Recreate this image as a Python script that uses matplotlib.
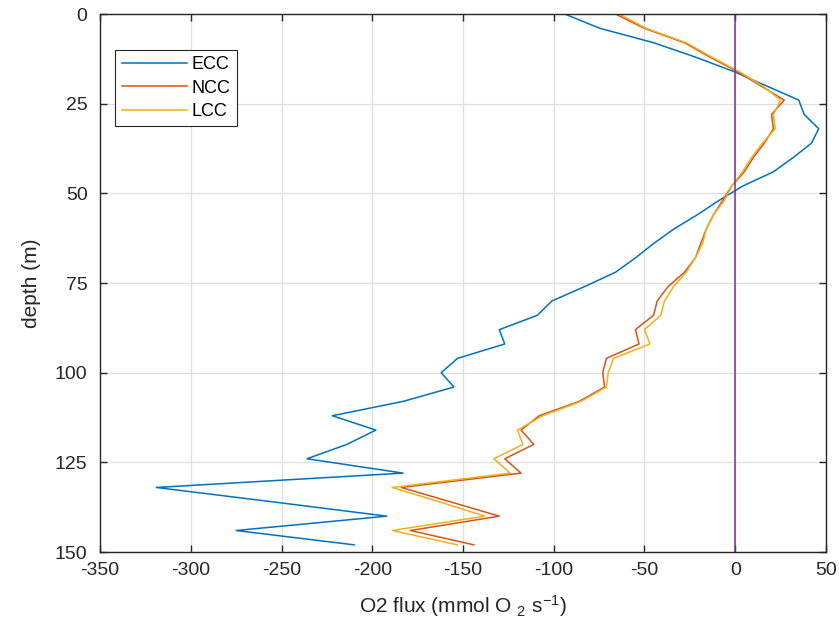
import matplotlib
matplotlib.use('Agg')
import matplotlib.pyplot as plt
import matplotlib as mpl

# MATLAB-ish default colours
ECC_COLOR = '#0072BD'
NCC_COLOR = '#D95319'
LCC_COLOR = '#EDB120'
ZERO_COLOR = '#7E2F8E'
AXIS_COLOR = '#262626'
GRID_COLOR = '#DFDFDF'

# ── data ─────────────────────────────────────────────────────────────────────
depth = [0, 4, 8, 12, 16, 20, 24, 28, 32, 36, 40, 44, 48, 52, 56, 60, 64, 68, 72,
         76, 80, 84, 88, 92, 96, 100, 104, 108, 112, 116, 120, 124, 128, 132,
         136, 140, 144, 148]

ecc = [-94, -74.5, -45, -22, -1, 17, 35, 38, 46, 42, 32, 21, 4, -9, -21, -34,
       -45, -55, -66, -83, -101, -109, -130, -127, -153, -162, -155, -183,
       -222, -198, -214, -236, -183, -319, -255, -192, -275, -210]

ncc = [-66, -50, -28, -14, 1, 14, 27, 20, 21, 16, 10, 5, -2, -7, -12, -16,
       -19, -22, -28, -37, -43, -45, -55, -53, -71, -73, -72, -86, -108,
       -118, -111, -127, -118, -184, -157, -130, -179, -144]

lcc = [-64, -49, -27, -13, 2, 15, 25, 21, 22, 15, 9, 4, -2, -6, -12, -16,
       -18, -22, -27, -34, -39, -41, -50, -47, -67, -70, -71, -85, -106,
       -120, -117, -133, -124, -189, -163, -138, -189, -153]

x_ticks = [-350, -300, -250, -200, -150, -100, -50, 0, 50]
y_ticks = [0, 25, 50, 75, 100, 125, 150]

mpl.rcParams.update({
    'font.family': ['Liberation Sans', 'DejaVu Sans'],
    'font.size': 14,
    'axes.edgecolor': AXIS_COLOR,
    'axes.linewidth': 1.0,
    'axes.unicode_minus': False,
    'xtick.direction': 'in',
    'ytick.direction': 'in',
    'xtick.color': AXIS_COLOR,
    'ytick.color': AXIS_COLOR,
    'mathtext.default': 'regular',
})

fig = plt.figure(figsize=(8.39, 6.37), dpi=100)
ax = fig.add_axes([0.1192, 0.1334, 0.8653, 0.8446])

ax.plot(ecc, depth, color=ECC_COLOR, lw=1.1, label='ECC')
ax.plot(ncc, depth, color=NCC_COLOR, lw=1.1, label='NCC')
ax.plot(lcc, depth, color=LCC_COLOR, lw=1.1, label='LCC')
ax.axvline(0, color=ZERO_COLOR, lw=1.1)

ax.set_xlim(-350, 50)
ax.set_ylim(150, 0)
ax.set_xticks(x_ticks)
ax.set_yticks(y_ticks)
ax.grid(True, color=GRID_COLOR, lw=0.9)
ax.set_axisbelow(True)
ax.tick_params(axis='both', length=5, width=1, labelsize=14,
               top=True, right=True, labelcolor=AXIS_COLOR)
ax.tick_params(axis='x', pad=7)
ax.tick_params(axis='y', pad=9)

ax.set_xlabel(r'O2 flux (mmol O $_{2}$ s$^{-1}$)', fontsize=15, color=AXIS_COLOR, labelpad=10)
ax.set_ylabel('depth (m)', fontsize=15, color=AXIS_COLOR, labelpad=10)

leg = ax.legend(loc='upper left', bbox_to_anchor=(0.021, 0.933), borderaxespad=0,
                fontsize=13, handlelength=3.6, handletextpad=0.3,
                labelspacing=0.35, fancybox=False, framealpha=1,
                edgecolor=AXIS_COLOR, borderpad=0.35)
leg.get_frame().set_linewidth(0.8)

fig.savefig('out.png', dpi=100, facecolor='white')
